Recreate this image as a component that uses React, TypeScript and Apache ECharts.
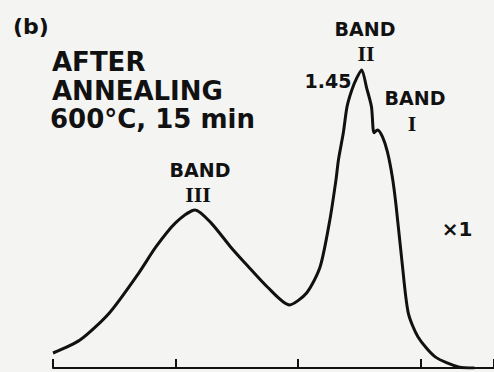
import React, { useEffect, useRef } from "react";
import * as echarts from "echarts";

// Spectrum trace (arbitrary x units, tick spacing = 1), intensity in same units as peak label 1.45
const xValues = [0, 0.22, 0.46, 0.7, 0.84, 1.0, 1.16, 1.29, 1.45, 1.59, 1.75, 1.93, 2.07, 2.18, 2.26, 2.31, 2.33, 2.37, 2.4, 2.44, 2.48, 2.52, 2.56, 2.6, 2.62, 2.65, 2.69, 2.73, 2.77, 2.8, 2.85, 2.9, 2.98, 3.12, 3.31, 3.44];
const yValues = [0.073, 0.136, 0.268, 0.462, 0.589, 0.706, 0.769, 0.706, 0.589, 0.496, 0.394, 0.307, 0.365, 0.491, 0.72, 0.915, 1.012, 1.144, 1.27, 1.353, 1.411, 1.45, 1.363, 1.27, 1.144, 1.158, 1.124, 1.051, 0.929, 0.793, 0.511, 0.268, 0.151, 0.054, 0.005, 0];

const titleLines = ["AFTER", "ANNEALING", "600°C, 15 min"];
const panelLabel = "(b)";
const peakLabel = "1.45";
const scaleLabel = "×1";

export default function App() {
  const ref = useRef<HTMLDivElement>(null);
  useEffect(() => {
    if (!ref.current) return;
    const chart = echarts.init(ref.current, undefined, { renderer: "svg" });
    const data = xValues.map((x, i) => [x, yValues[i]]);
    const sans = "DejaVu Sans";
    const serif = "Liberation Serif";
    const txt = (text: string, x: number, y: number, size: number, align = "left", font = sans) => ({
      type: "text",
      x,
      y,
      style: {
        text,
        fill: "#111",
        font: `bold ${size}px "${font}"`,
        textAlign: align,
        textVerticalAlign: "middle",
      },
    });
    chart.setOption({
      animation: false,
      backgroundColor: "#f4f4f2",
      grid: { left: 53, right: -5.4, top: 0, bottom: 4 },
      xAxis: {
        type: "value",
        min: 0,
        max: 3.6,
        interval: 1,
        axisLine: { show: true, lineStyle: { color: "#111", width: 2 } },
        axisTick: { show: true, inside: true, length: 9, lineStyle: { color: "#111", width: 2 } },
        axisLabel: { show: false },
        splitLine: { show: false },
      },
      yAxis: {
        type: "value",
        min: 0,
        max: 1.79,
        show: false,
        splitLine: { show: false },
      },
      series: [
        {
          type: "line",
          data,
          smooth: 0.25,
          symbol: "none",
          lineStyle: { color: "#111", width: 3 },
        },
      ],
      graphic: [
        txt(panelLabel, 13, 26, 22),
        txt(titleLines[0], 52, 62, 26),
        txt(titleLines[1], 52, 91, 26),
        txt(titleLines[2], 50, 119, 26),
        txt("BAND", 200, 170, 19, "center"),
        txt("III", 198, 194, 22, "center", serif),
        txt("BAND", 365, 29, 19, "center"),
        txt("II", 366, 53, 22, "center", serif),
        txt(peakLabel, 328, 81, 19, "center"),
        txt("BAND", 415, 98, 19, "center"),
        txt("I", 412, 123, 22, "center", serif),
        txt(scaleLabel, 457, 229, 20, "center"),
      ],
    });
    return () => chart.dispose();
  }, []);
  return (
    <div
      ref={ref}
      style={{ position: "absolute", left: 0, top: 0, width: 494, height: 372 }}
    />
  );
}
